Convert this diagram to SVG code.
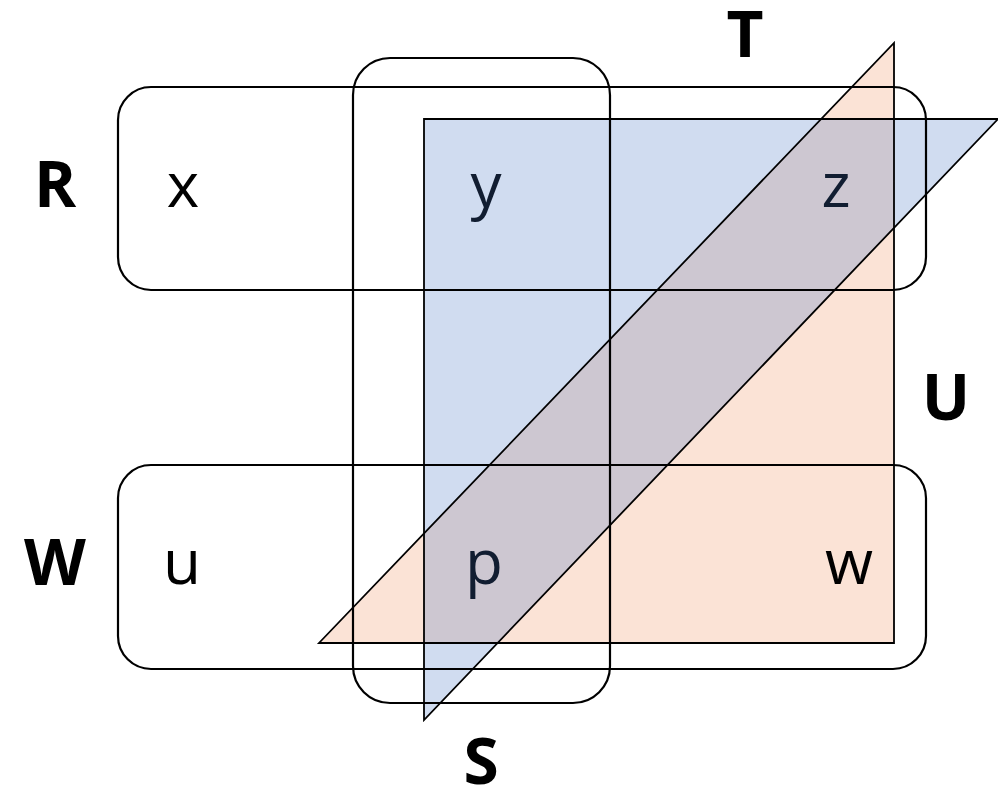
<svg xmlns="http://www.w3.org/2000/svg" width="998" height="792" viewBox="0 0 998 792">
<style>
.box{fill:none;stroke:#000;stroke-width:2.2}
.tri{stroke:#000;stroke-width:1.8;stroke-linejoin:miter}
.lab{font-family:"Open Sans","Liberation Sans",sans-serif;font-size:64px;font-weight:bold;fill:#000;text-anchor:middle}
.el{font-family:"Open Sans","Liberation Sans",sans-serif;font-size:62px;fill:#000;text-anchor:middle}
</style>
<rect width="998" height="792" fill="#fff"/>
<g id="U">
<polygon points="894,43 894,643 319,643" fill="#FBE3D6" stroke="none"/>
</g>
<g id="elements">
<text class="el" x="183" y="207">x</text>
<text class="el" x="486" y="207">y</text>
<text class="el" x="836" y="207">z</text>
<text class="el" x="182" y="584">u</text>
<text class="el" x="484" y="584">p</text>
<text class="el" x="849" y="584">w</text>
</g>
<g id="T">
<polygon points="424,119 998,119 424,720" fill="#4472C4" fill-opacity="0.25" stroke="none"/>
</g>
<g id="R"><rect class="box" x="118" y="87" width="808" height="203" rx="33"/></g>
<g id="W"><rect class="box" x="118" y="465" width="808" height="204" rx="33"/></g>
<g id="S"><rect class="box" x="353" y="58" width="257" height="645" rx="37"/></g>
<g id="outlines">
<polygon class="tri" points="894,43 894,643 319,643" fill="none"/>
<polygon class="tri" points="424,119 998,119 424,720" fill="none"/>
</g>
<g id="labels">
<text class="lab" x="55" y="207">R</text>
<text class="lab" x="55" y="585">W</text>
<text class="lab" x="745" y="57" font-size="62">T</text>
<text class="lab" x="481" y="784" font-size="62">S</text>
<text class="lab" x="946" y="420">U</text>
</g>
</svg>
